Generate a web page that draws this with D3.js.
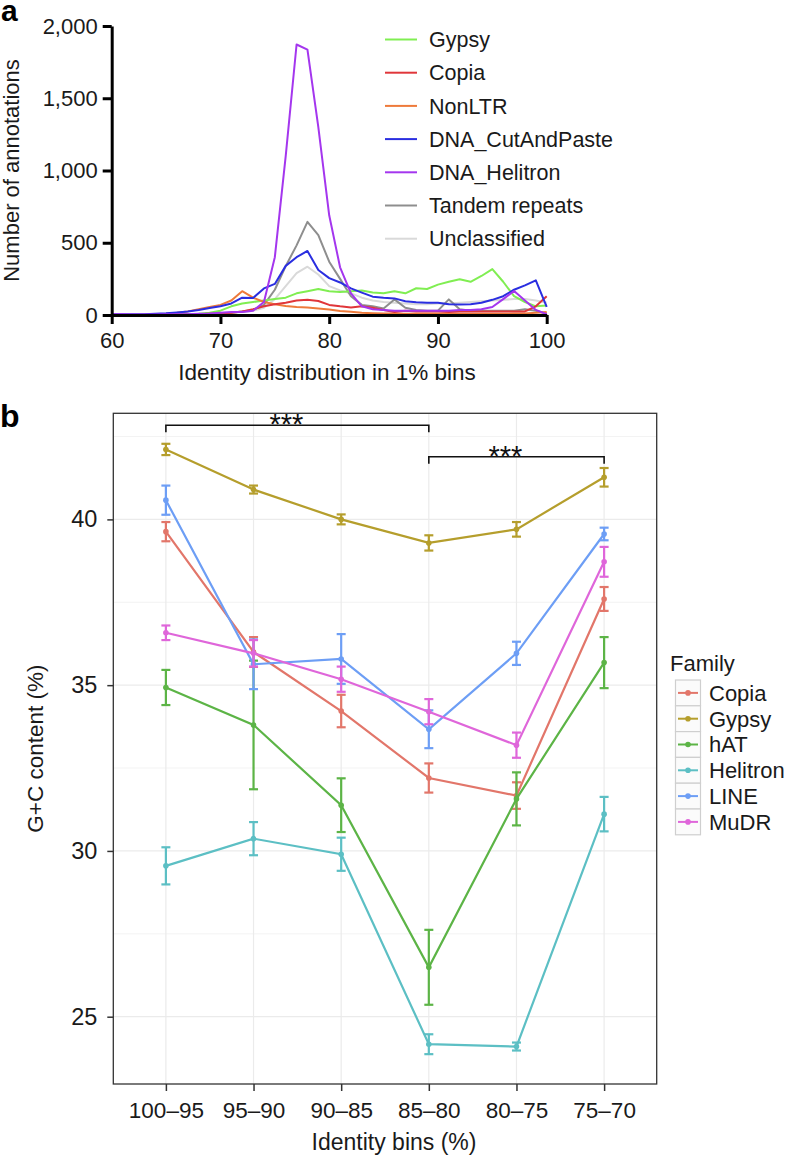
<!DOCTYPE html>
<html>
<head>
<meta charset="utf-8">
<script src="https://cdn.jsdelivr.net/npm/d3@7"></script>
<style>
  html, body { margin: 0; padding: 0; background: #fff; }
  svg { display: block; font-family: "Liberation Sans", Arial, Helvetica, sans-serif; }
</style>
</head>
<body>
<svg id="chart" width="788" height="1157"></svg>
<script>
// ---------------- Panel a data ----------------
const identityA = d3.range(60, 101); // 60..100 in 1% bins
const gypsyA = [0,0,0,0,0,2,3,5,8,15,30,60,80,90,100,110,120,150,165,180,165,160,165,170,155,150,165,150,185,180,210,230,248,230,270,318,230,130,90,60,65];
const copiaA = [0,0,0,0,0,0,2,3,5,8,10,15,25,40,60,75,85,100,105,97,70,60,52,60,50,35,20,30,25,25,25,20,25,25,25,25,25,25,25,60,130];
const nonLtrA = [0,0,0,2,5,8,15,25,40,55,70,100,165,120,90,75,62,55,52,45,38,28,22,15,12,10,10,8,8,8,8,8,8,8,8,8,8,10,10,15,20];
const cutPasteA = [5,5,5,5,8,12,18,25,35,48,60,80,120,118,184,215,340,400,443,311,255,225,184,155,127,120,115,95,88,85,85,75,72,75,85,105,130,175,205,240,57];
const helitronA = [5,5,3,3,3,5,5,5,8,10,15,20,20,30,90,400,1100,1872,1837,1300,690,330,150,60,40,35,30,30,30,30,30,30,35,35,40,55,110,166,100,35,5];
const tandemA = [0,0,0,0,0,2,3,4,5,8,10,15,25,35,70,175,338,482,645,553,369,250,130,70,60,45,108,50,35,30,30,108,40,30,30,30,30,30,40,30,10];
const unclassA = [0,0,0,0,0,2,3,4,5,8,10,15,20,30,50,110,200,290,334,280,200,170,150,120,100,90,85,80,75,75,80,80,85,90,95,100,105,110,110,100,85];
const seriesNamesA = ["Gypsy","Copia","NonLTR","DNA_CutAndPaste","DNA_Helitron","Tandem repeats","Unclassified"];
const seriesValuesA = [gypsyA, copiaA, nonLtrA, cutPasteA, helitronA, tandemA, unclassA];
const seriesColorsA = ["#80ee52","#e0363a","#ee7a3a","#2a2ee0","#a436ee","#8e8e8e","#d9d9d9"];
const yTicksA = [0, 500, 1000, 1500, 2000];
const xTicksA = [60, 70, 80, 90, 100];

// ---------------- Panel b data ----------------
const bins = ["100–95","95–90","90–85","85–80","80–75","75–70"];
const families = ["Copia","Gypsy","hAT","Helitron","LINE","MuDR"];
const familyColors = ["#e2766a","#b59e2c","#5cb446","#5cbfc4","#6d9ef5","#df66da"];
const copiaGC = [39.63, 36.0, 34.22, 32.2, 31.67, 37.6];
const copiaErr = [0.29, 0.45, 0.49, 0.44, 0.4, 0.36];
const gypsyGC = [42.11, 40.9, 40.0, 39.29, 39.7, 41.27];
const gypsyErr = [0.17, 0.12, 0.15, 0.23, 0.22, 0.28];
const hatGC = [34.93, 33.8, 31.38, 26.49, 31.57, 35.68];
const hatErr = [0.53, 1.94, 0.81, 1.13, 0.8, 0.77];
const helitronGC = [29.55, 30.37, 29.9, 24.17, 24.1, 31.11];
const helitronErr = [0.56, 0.5, 0.5, 0.3, 0.12, 0.52];
const lineGC = [40.58, 35.63, 35.79, 33.67, 35.96, 39.56];
const lineErr = [0.44, 0.75, 0.75, 0.57, 0.35, 0.19];
const mudrGC = [36.58, 35.96, 35.18, 34.2, 33.19, 38.72];
const mudrErr = [0.22, 0.4, 0.38, 0.38, 0.38, 0.45];
const gcValues = [copiaGC, gypsyGC, hatGC, helitronGC, lineGC, mudrGC];
const gcErrors = [copiaErr, gypsyErr, hatErr, helitronErr, lineErr, mudrErr];
const yTicksB = [25, 30, 35, 40];
const yMinorB = [27.5, 32.5, 37.5, 42.5];
const sigFrom = ["100–95", "85–80"];
const sigTo = ["85–80", "75–70"];
const sigLevel = [42.84, 41.89];
const sigLabel = ["***", "***"];

const svg = d3.select("#chart");
const FONT_COLOR = "#1a1a1a";

// ================= Panel a =================
const xA = d3.scaleLinear().domain([60, 100]).range([111.7, 546.7]);
const yA = d3.scaleLinear().domain([0, 2000]).range([315, 26]);
const gA = svg.append("g");

const lineA = d3.line().x((d, i) => xA(identityA[i])).y(d => yA(d));
const drawOrder = [6, 5, 0, 2, 1, 3, 4];
drawOrder.forEach(k => {
  gA.append("path")
    .attr("d", lineA(seriesValuesA[k]))
    .attr("fill", "none")
    .attr("stroke", seriesColorsA[k])
    .attr("stroke-width", 2)
    .attr("stroke-linejoin", "round");
});

const axA_y = gA.append("g").attr("transform", `translate(${xA(60)},0)`)
  .call(d3.axisLeft(yA).tickValues(yTicksA).tickFormat(d3.format(",")).tickSize(9).tickSizeOuter(0).tickPadding(5));
const axA_x = gA.append("g").attr("transform", `translate(0,${yA(0)})`)
  .call(d3.axisBottom(xA).tickValues(xTicksA).tickFormat(d3.format("d")).tickSize(9).tickSizeOuter(0).tickPadding(8));
[axA_y, axA_x].forEach(ax => {
  ax.select(".domain").attr("stroke", "#000").attr("stroke-width", 3);
  ax.selectAll(".tick line").attr("stroke", "#000").attr("stroke-width", 3);
  ax.selectAll(".tick text").attr("font-size", 22).attr("fill", FONT_COLOR)
    .attr("font-family", "Liberation Sans, Arial, sans-serif");
});

gA.append("text").attr("x", 327).attr("y", 380).attr("text-anchor", "middle")
  .attr("font-size", 22.5).attr("fill", FONT_COLOR).text("Identity distribution in 1% bins");
gA.append("text").attr("transform", `translate(19,${(yA(0) + yA(2000)) / 2}) rotate(-90)`)
  .attr("text-anchor", "middle").attr("font-size", 22).attr("fill", FONT_COLOR).text("Number of annotations");

const legA = gA.append("g");
seriesNamesA.forEach((name, i) => {
  const cy = 39.5 + i * 33.2;
  legA.append("line").attr("x1", 385).attr("x2", 417).attr("y1", cy).attr("y2", cy)
    .attr("stroke", seriesColorsA[i]).attr("stroke-width", 2);
  legA.append("text").attr("x", 429).attr("y", cy).attr("dy", "0.36em")
    .attr("font-size", 21.5).attr("fill", FONT_COLOR).text(name);
});

svg.append("text").attr("x", 1).attr("y", 21).attr("font-size", 30).attr("font-weight", "bold").attr("fill", "#000").text("a");

// ================= Panel b =================
const pLeft = 113.3, pRight = 656.7, pTop = 413.3, pBottom = 1084;
const xB = d3.scalePoint().domain(bins).range([pLeft, pRight]).padding(0.6);
const yB = d3.scaleLinear().domain([22.97, 43.2]).range([pBottom, pTop]);
const gB = svg.append("g");

gB.selectAll(".minor").data(yMinorB).join("line")
  .attr("x1", pLeft).attr("x2", pRight).attr("y1", d => yB(d)).attr("y2", d => yB(d))
  .attr("stroke", "#f0f0f0").attr("stroke-width", 0.8);
gB.selectAll(".major").data(yTicksB).join("line")
  .attr("x1", pLeft).attr("x2", pRight).attr("y1", d => yB(d)).attr("y2", d => yB(d))
  .attr("stroke", "#ebebeb").attr("stroke-width", 1.2);
gB.selectAll(".vgrid").data(bins).join("line")
  .attr("x1", d => xB(d)).attr("x2", d => xB(d)).attr("y1", pTop).attr("y2", pBottom)
  .attr("stroke", "#ebebeb").attr("stroke-width", 1.2);

const lineB = d3.line().x((d, i) => xB(bins[i])).y(d => yB(d));
families.forEach((fam, k) => {
  const col = familyColors[k];
  const vals = gcValues[k], errs = gcErrors[k];
  const g = gB.append("g");
  g.append("path").attr("d", lineB(vals)).attr("fill", "none")
    .attr("stroke", col).attr("stroke-width", 2.2);
  vals.forEach((v, i) => {
    const x = xB(bins[i]);
    const y1 = yB(v + errs[i]), y0 = yB(v - errs[i]);
    g.append("line").attr("x1", x).attr("x2", x).attr("y1", y1).attr("y2", y0)
      .attr("stroke", col).attr("stroke-width", 2.2);
    [y1, y0].forEach(yy => g.append("line").attr("x1", x - 4.5).attr("x2", x + 4.5)
      .attr("y1", yy).attr("y2", yy).attr("stroke", col).attr("stroke-width", 2.2));
    g.append("circle").attr("cx", x).attr("cy", yB(v)).attr("r", 2.8).attr("fill", col);
  });
});

gB.append("rect").attr("x", pLeft).attr("y", pTop).attr("width", pRight - pLeft).attr("height", pBottom - pTop)
  .attr("fill", "none").attr("stroke", "#333").attr("stroke-width", 1.3);

const axB_y = gB.append("g").attr("transform", `translate(${pLeft},0)`)
  .call(d3.axisLeft(yB).tickValues(yTicksB).tickSize(6).tickSizeOuter(0).tickPadding(10));
const axB_x = gB.append("g").attr("transform", `translate(0,${pBottom})`)
  .call(d3.axisBottom(xB).tickSize(7).tickSizeOuter(0).tickPadding(11));
axB_y.selectAll(".tick text").attr("font-size", 23.5);
axB_x.selectAll(".tick text").attr("font-size", 22.5);
[axB_y, axB_x].forEach(ax => {
  ax.select(".domain").remove();
  ax.selectAll(".tick line").attr("stroke", "#333").attr("stroke-width", 1.5);
  ax.selectAll(".tick text").attr("fill", FONT_COLOR)
    .attr("font-family", "Liberation Sans, Arial, sans-serif");
});

gB.append("text").attr("x", 394).attr("y", 1150).attr("text-anchor", "middle")
  .attr("font-size", 23).attr("fill", FONT_COLOR).text("Identity bins (%)");
gB.append("text").attr("transform", `translate(43,${(pTop + pBottom) / 2}) rotate(-90)`)
  .attr("text-anchor", "middle").attr("font-size", 22.5).attr("fill", FONT_COLOR).text("G+C content (%)");

sigFrom.forEach((f, i) => {
  const x0 = xB(f), x1 = xB(sigTo[i]);
  const y = yB(sigLevel[i]);
  gB.append("path").attr("d", `M${x0},${y + 7}V${y}H${x1}V${y + 7}`)
    .attr("fill", "none").attr("stroke", "#111").attr("stroke-width", 1.6);
  gB.append("text").attr("x", (x0 + x1) / 2 - 11).attr("y", y + 9).attr("text-anchor", "middle")
    .attr("font-size", 29).attr("fill", "#111").text(sigLabel[i]);
});

const legB = gB.append("g");
legB.append("text").attr("x", 670).attr("y", 671).attr("font-size", 22).attr("fill", FONT_COLOR).text("Family");
families.forEach((fam, i) => {
  const y0 = 680 + i * 25.8;
  legB.append("rect").attr("x", 675.5).attr("y", y0).attr("width", 25).attr("height", 25.8)
    .attr("fill", "#fbfbfb").attr("stroke", "#cfcfcf").attr("stroke-width", 1.2);
  legB.append("line").attr("x1", 678).attr("x2", 698).attr("y1", y0 + 12.9).attr("y2", y0 + 12.9)
    .attr("stroke", familyColors[i]).attr("stroke-width", 2);
  legB.append("circle").attr("cx", 688).attr("cy", y0 + 12.9).attr("r", 2.8).attr("fill", familyColors[i]);
  legB.append("text").attr("x", 709).attr("y", y0 + 12.9).attr("dy", "0.36em")
    .attr("font-size", 22).attr("fill", FONT_COLOR).text(fam);
});

svg.append("text").attr("x", 0).attr("y", 427).attr("font-size", 32).attr("font-weight", "bold").attr("fill", "#000").text("b");
</script>
</body>
</html>
